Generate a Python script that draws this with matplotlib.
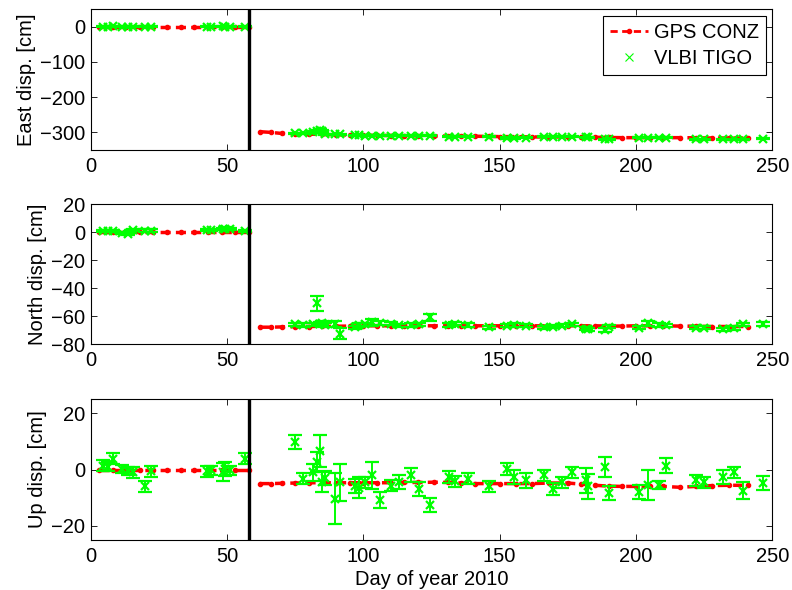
import matplotlib
matplotlib.use('Agg')
import matplotlib.pyplot as plt
from matplotlib.lines import Line2D

plt.rcParams['font.family'] = ['Liberation Sans', 'DejaVu Sans']
plt.rcParams['axes.unicode_minus'] = True

# ---------------- data ----------------
quake_day = 58.2

# GPS CONZ (daily solutions, read at sampled days)
gps_days_pre = [3, 8, 13, 18, 23, 28, 33, 38, 43, 48, 53, 58]
gps_east_pre = [0, 0, 0, 0, 0, 0, 0, 0, 0, 0, 0, 0]
gps_north_pre = [0, 0, 0, 0, 0, 0, 0, 0, 0, 0, 0, 0]
gps_up_pre = [-0.3, -0.3, -0.3, -0.3, -0.3, -0.3, -0.3, -0.3, -0.3, -0.3, -0.3, -0.3]

gps_days_post = [62, 66, 70, 75, 80, 85, 90, 95, 100, 105, 110, 115, 120, 126, 131,
                 136, 141, 146, 150, 156, 162, 168, 175, 180, 185, 190, 195, 200,
                 205, 210, 216, 222, 228, 234, 241]
gps_east_post = [-298, -300, -303, -304, -305, -306, -307, -307.5, -308, -308.5, -309,
                 -309.5, -310, -310, -310.5, -311, -311, -311.5, -312, -312, -313,
                 -313, -313, -313.5, -314, -314.5, -315, -315, -315, -315, -315,
                 -315.5, -316, -316, -316]
gps_north_post = [-68, -68, -67.8, -67.6, -67.5, -67.4, -67.3, -67.2, -67, -67, -67,
                  -67, -67, -67, -67, -67, -67, -67, -67, -67, -67, -67, -67, -67,
                  -67, -67.2, -67.2, -67, -67, -67, -67.2, -67.3, -67.5, -67.5, -67.5]
gps_up_post = [-5.0, -5.0, -4.9, -4.8, -4.7, -4.7, -4.7, -4.7, -4.7, -4.7, -4.7, -4.6,
               -4.6, -4.5, -4.6, -4.8, -5.0, -5.0, -5.0, -5.0, -5.0, -4.8, -4.8, -5.2,
               -5.6, -5.9, -6.0, -6.0, -6.0, -6.0, -6.3, -6.0, -5.7, -5.6, -5.6]

# VLBI TIGO sessions
vlbi_days = [4.5, 6.5, 8, 11.3, 13.5, 15.5, 19.9, 22, 42.5, 44.2, 48.6, 49.3, 51, 56.6,
             75, 78, 81.7, 83, 84, 84.8, 86, 89.7, 91.5, 97, 98.5, 100.5, 103, 106.2,
             110, 113, 117.3, 120.3, 124.4, 131.4, 133.8, 138.4, 146, 152.8, 155.3,
             159.6, 166.3, 169.4, 173, 176.4, 181.6, 182.5, 188.6, 190.2, 201.2, 204.3,
             208.6, 211, 222, 225.1, 231.9, 236.1, 239.2, 246.6]
vlbi_east = [0, 0, 0.5, 0, 0, -0.5, 0, 0, 0, 0, 0.5, 0, 0, 0,
             -303, -303, -298, -295, -294, -296, -305, -306, -306, -308, -308, -309,
             -310, -310, -310, -310, -310, -310, -310, -313, -313, -313, -313, -316,
             -316, -315, -313, -313, -313, -313, -314, -314, -319, -320, -315, -315,
             -315, -315, -319, -320, -320, -319, -319, -318]
vlbi_east_err = [1.0, 1.0, 1.0, 1.0, 1.0, 1.0, 1.0, 1.0, 1.0, 1.0, 1.0, 1.0, 1.0, 1.0,
                 1.5, 1.5, 2.5, 2.5, 2.5, 2.5, 1.5, 1.5, 1.5, 1.5, 1.5, 1.5, 1.5, 1.5,
                 1.5, 1.5, 1.5, 1.5, 1.5, 1.5, 1.5, 1.5, 1.5, 1.5, 1.5, 1.5, 1.5, 1.5,
                 1.5, 1.5, 1.5, 1.5, 1.5, 1.5, 1.5, 1.5, 1.5, 1.5, 1.5, 1.5, 1.5, 1.5,
                 1.5, 1.5]
vlbi_north = [0.5, 0.5, 0.5, -0.8, -1.2, 1.5, 1, 1, 1.7, 1.7, 2.2, 2.5, 2, 0.5,
              -66, -66.5, -66, -51, -65.5, -65, -66.5, -65.5, -72.5, -68, -66.5, -66,
              -64.5, -65, -65.5, -66.7, -66.5, -66, -61, -66.5, -65.5, -66.5, -68, -67,
              -66.5, -67, -68, -67.5, -67, -66, -69, -69.5, -70, -67.5, -68.3, -65.3,
              -66.5, -66.7, -68.3, -68.3, -69.5, -68.5, -66, -65.5]
vlbi_north_err = [0.8, 0.8, 0.8, 0.8, 0.8, 0.8, 0.8, 0.8, 0.8, 0.8, 0.8, 0.8, 0.8, 0.8,
                  1.2, 1.2, 1.2, 5.5, 1.2, 1.2, 1.2, 2.0, 3.6, 1.2, 1.2, 1.2, 2.5, 1.2,
                  1.2, 1.2, 1.2, 1.2, 2.3, 1.2, 1.2, 1.2, 1.2, 1.2, 1.2, 1.2, 1.2, 1.2,
                  1.2, 1.2, 1.2, 1.2, 1.2, 1.2, 1.2, 2.0, 1.2, 1.2, 1.2, 1.2, 1.2, 1.2,
                  1.2, 1.5]
vlbi_up = [1.4, 1.0, 3.8, 0.2, -0.5, -1.0, -6.0, -0.6, -0.6, -0.3, -1.0, 0.2, -0.3, 3.8,
           9.8, -3.3, -1.0, 2.6, 6.5, -4.5, -3.0, -10.4, -4.5, -5.7, -6.4, -4.5, -2.1,
           -10.9, -5.7, -4.5, -2.1, -6.9, -12.5, -2.7, -4.2, -3.3, -6.0, 0.2, -2.7, -3.9,
           -2.1, -6.9, -4.5, -1.0, -3.9, -6.0, 1.0, -8.3, -8.1, -5.5, -5.5, 1.4, -3.9,
           -4.5, -2.7, -1.0, -7.5, -4.9]
vlbi_up_err = [2.0, 1.5, 2.0, 1.5, 1.5, 2.0, 2.0, 2.0, 2.0, 1.5, 3.2, 2.5, 1.5, 2.0,
               2.5, 2.0, 3.0, 3.5, 5.7, 3.5, 2.5, 9.0, 6.5, 2.5, 3.7, 2.0, 4.8, 2.8,
               2.0, 2.5, 2.5, 2.5, 2.5, 2.0, 2.0, 2.0, 2.0, 2.0, 2.5, 2.5, 2.0, 2.0,
               2.0, 2.0, 4.5, 4.5, 3.6, 2.5, 2.5, 5.2, 1.5, 2.6, 2.0, 2.0, 2.5, 2.0,
               3.0, 2.5]

panels = [
    ("East disp. [cm]", gps_east_pre, gps_east_post, vlbi_east, vlbi_east_err,
     (-350, 50), [-300, -200, -100, 0]),
    ("North disp. [cm]", gps_north_pre, gps_north_post, vlbi_north, vlbi_north_err,
     (-80, 20), [-80, -60, -40, -20, 0, 20]),
    ("Up disp. [cm]", gps_up_pre, gps_up_post, vlbi_up, vlbi_up_err,
     (-25, 25), [-20, 0, 20]),
]

# ---------------- figure ----------------
W, H = 792, 590
FS = 14.5
fig = plt.figure(figsize=(W / 100, H / 100), dpi=100)
left = 90.7 / W
width = (772.3 - 90.7) / W
rows = [(9, 150), (204, 344), (399, 540)]

RED = '#ff0000'
GREEN = '#00ff00'
gps_style = dict(color=RED, linestyle='--', dashes=(2.9, 1.5), linewidth=2.5,
                 marker='.', markersize=6)

axes = []
for (top_px, bot_px), (ylab, gpre, gpost, vval, verr, ylim, yticks) in zip(rows, panels):
    ax = fig.add_axes([left, 1 - bot_px / H, width, (bot_px - top_px) / H])
    axes.append(ax)
    ax.plot(gps_days_pre, gpre, zorder=2, **gps_style)
    ax.plot(gps_days_post, gpost, zorder=2, **gps_style)
    ax.errorbar(vlbi_days, vval, yerr=verr, fmt='x', color=GREEN, ecolor=GREEN,
                markersize=6, markeredgewidth=1.6, elinewidth=1.4,
                capsize=4.75, capthick=1.4, zorder=3)
    ax.axvline(quake_day, color='black', linewidth=2.4, zorder=4)
    ax.set_xlim(0, 250)
    ax.set_ylim(*ylim)
    ax.set_xticks([0, 50, 100, 150, 200, 250])
    ax.set_yticks(yticks)
    ax.tick_params(direction='in', top=True, right=True, length=4.3, width=0.6,
                   labelsize=FS)
    ax.tick_params(axis='x', pad=5)
    ax.tick_params(axis='y', pad=4)
    for s in ax.spines.values():
        s.set_linewidth(0.8)
    ax.set_ylabel(ylab, fontsize=FS, labelpad=3)

axes[-1].set_xlabel("Day of year 2010", fontsize=FS, labelpad=3)

handles = [
    Line2D([0], [0], color=RED, linestyle='--', dashes=(2.6, 1.6), linewidth=2.0,
           marker='.', markersize=6),
    Line2D([0], [0], color=GREEN, linestyle='none', marker='x', markersize=6,
           markeredgewidth=0.8),
]
leg = axes[0].legend(handles, ["GPS CONZ", "VLBI TIGO"], loc='upper right',
                     bbox_to_anchor=(0.9908, 0.950), borderaxespad=0, fontsize=FS,
                     fancybox=False, framealpha=1, edgecolor='black',
                     handlelength=1.9, handletextpad=0.3, borderpad=0.35,
                     labelspacing=0.35, numpoints=1)
leg.get_frame().set_linewidth(0.8)

fig.savefig('out.png', dpi=100)
